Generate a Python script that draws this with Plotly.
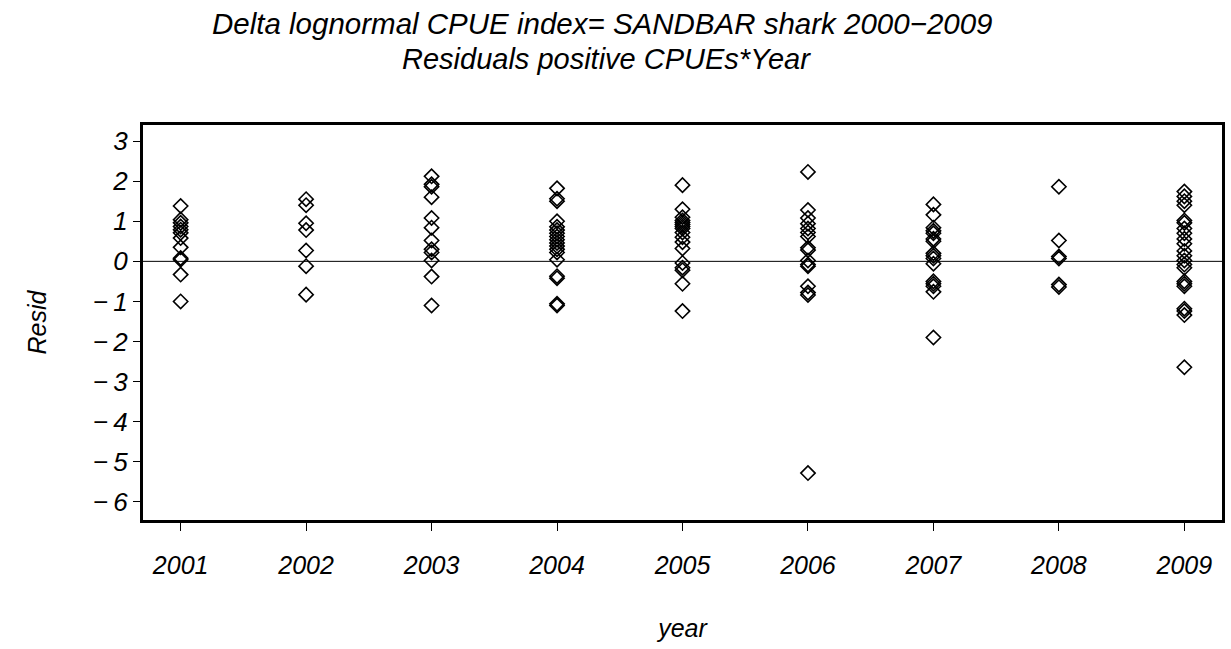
import plotly.graph_objects as go

years = [2001, 2002, 2003, 2004, 2005, 2006, 2007, 2008, 2009]

resid_2001 = [1.38, 1.04, 0.96, 0.87, 0.79, 0.71, 0.58, 0.35, 0.08, 0.04, -0.33, -1.0]
resid_2002 = [1.55, 1.40, 0.95, 0.78, 0.27, -0.12, -0.83]
resid_2003 = [2.12, 1.92, 1.86, 1.60, 1.08, 0.84, 0.52, 0.30, 0.22, 0.02, -0.38, -1.1]
resid_2004 = [1.82, 1.56, 1.50, 1.00, 0.86, 0.78, 0.70, 0.62, 0.54, 0.46, 0.38, 0.30, 0.22, 0.04, -0.37, -0.42, -1.06, -1.1]
resid_2005 = [1.90, 1.30, 1.10, 1.02, 0.97, 0.92, 0.87, 0.82, 0.72, 0.60, 0.48, 0.32, -0.04, -0.16, -0.22, -0.56, -1.24]
resid_2006 = [2.23, 1.28, 1.08, 0.94, 0.82, 0.72, 0.62, 0.34, 0.28, 0.02, -0.08, -0.12, -0.62, -0.78, -0.84, -5.28]
resid_2007 = [1.42, 1.16, 0.84, 0.76, 0.70, 0.56, 0.50, 0.20, 0.14, 0.07, -0.06, -0.50, -0.56, -0.62, -0.76, -1.90]
resid_2008 = [1.86, 0.52, 0.12, 0.07, -0.58, -0.64]
resid_2009 = [1.74, 1.62, 1.50, 1.40, 1.02, 0.96, 0.82, 0.70, 0.56, 0.44, 0.26, 0.14, 0.02, -0.08, -0.16, -0.50, -0.56, -0.62, -1.18, -1.24, -1.34, -2.64]

all_resid = [resid_2001, resid_2002, resid_2003, resid_2004, resid_2005,
             resid_2006, resid_2007, resid_2008, resid_2009]

y_tickvals = [3, 2, 1, 0, -1, -2, -3, -4, -5, -6]
y_ticktext = ["3", "2", "1", "0", "\u2212\u20091", "\u2212\u20092", "\u2212\u20093", "\u2212\u20094",
              "\u2212\u20095", "\u2212\u20096"]
x_ticktext = [str(y) for y in years]

xs, ys = [], []
for yr, vals in zip(years, all_resid):
    xs += [yr] * len(vals)
    ys += vals

FONT = "Liberation Sans, Arial, sans-serif"

fig = go.Figure()
fig.add_trace(go.Scatter(
    x=xs, y=ys, mode="markers",
    marker=dict(symbol="diamond-open", size=11, color="black", line=dict(width=1.6, color="black")),
    showlegend=False,
))

fig.add_hline(y=0, line=dict(color="black", width=1))

fig.update_layout(
    width=1231, height=649,
    margin=dict(l=143, r=6, t=125, b=129),
    paper_bgcolor="white", plot_bgcolor="white",
    font=dict(family=FONT, color="black", style="italic"),
)
fig.add_annotation(text="Delta lognormal CPUE index= SANDBAR shark 2000\u22122009",
                   xref="paper", yref="paper", x=0.5, y=1, yshift=120, xshift=-80,
                   showarrow=False, font=dict(size=29.5, family=FONT, style="italic"))
fig.add_annotation(text="Residuals positive CPUEs*Year",
                   xref="paper", yref="paper", x=0.5, y=1, yshift=84, xshift=-76,
                   showarrow=False, font=dict(size=29, family=FONT, style="italic"))

fig.update_xaxes(
    range=[2000.70, 2009.30],
    tickvals=years, ticktext=x_ticktext,
    ticks="outside", ticklen=8, tickwidth=1, tickcolor="black",
    ticklabelstandoff=13,
    tickfont=dict(size=25, family=FONT, style="italic"),
    showline=True, linewidth=3, linecolor="black", mirror=True,
    showgrid=False, zeroline=False,
    title=dict(text="year", font=dict(size=25, family=FONT, style="italic"), standoff=42),
)
fig.update_yaxes(
    range=[-6.45, 3.4],
    tickvals=y_tickvals, ticktext=y_ticktext,
    ticks="outside", ticklen=7, tickwidth=1, tickcolor="black",
    tickfont=dict(size=26, family=FONT, style="italic"),
    showline=True, linewidth=3, linecolor="black", mirror=True,
    showgrid=False, zeroline=False,
    title=dict(text="Resid", font=dict(size=25, family=FONT, style="italic"), standoff=40),
)

fig.write_html("out.html")
